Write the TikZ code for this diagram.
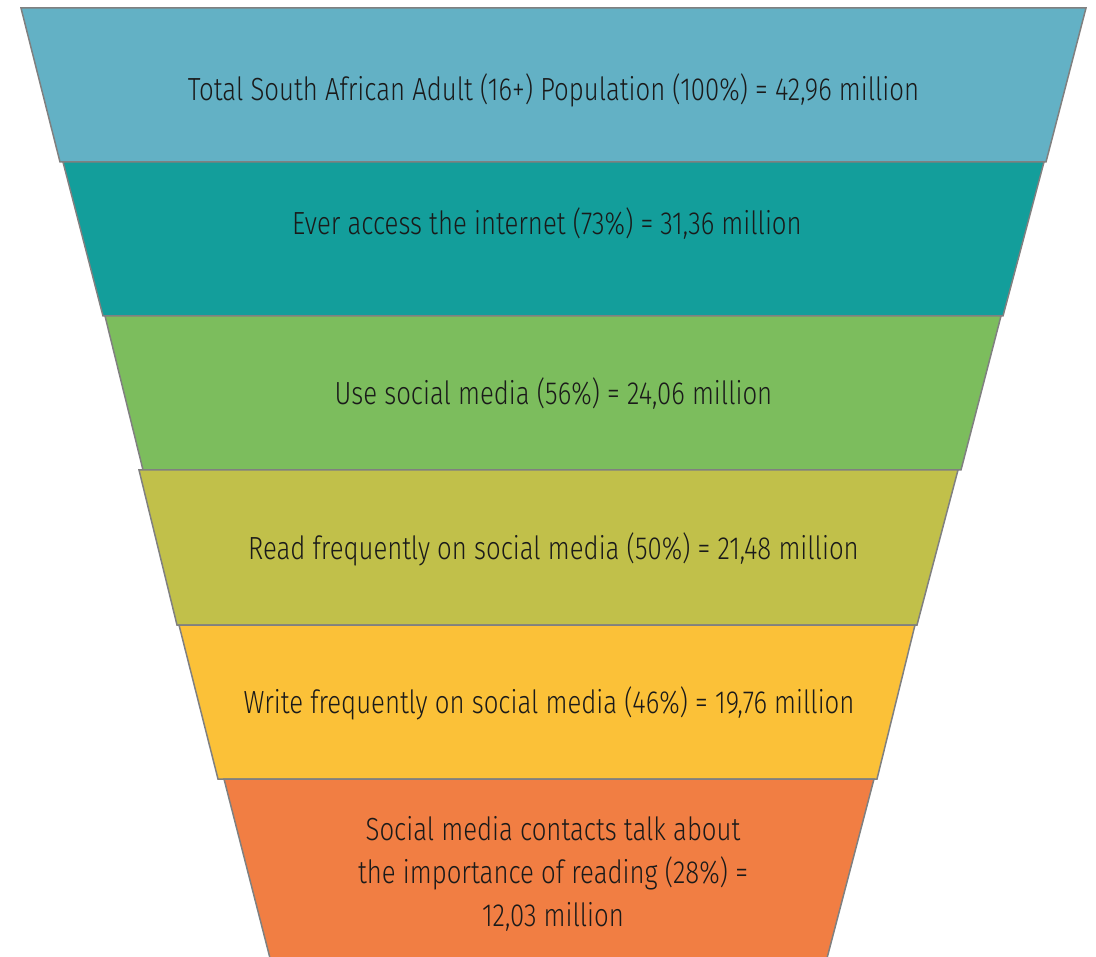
\documentclass[tikz,border=0pt]{standalone}
\usepackage{fontspec}
\setmainfont{Fira Sans}[UprightFont=* Light, FakeStretch=0.805]
\definecolor{c1}{RGB}{99,177,197}
\definecolor{c2}{RGB}{19,158,155}
\definecolor{c3}{RGB}{124,189,93}
\definecolor{c4}{RGB}{193,192,74}
\definecolor{c5}{RGB}{251,193,56}
\definecolor{c6}{RGB}{241,126,67}
\definecolor{edge}{RGB}{128,128,128}
\definecolor{ink}{RGB}{26,26,26}
\tikzset{
  band/.style={draw=edge, line width=1.5pt, line join=miter},
  lbl/.style={text=ink, font=\fontsize{32}{43}\selectfont, align=center, inner sep=0pt}
}
\begin{document}
\begin{tikzpicture}[x=1pt,y=-1pt]
\useasboundingbox (0,0) rectangle (1096,957);
\clip (0,0) rectangle (1096,957);
\path[band, fill=c1] (21,8) -- (1086,8) -- (1046,162) -- (60,162) -- cycle;
\path[band, fill=c2] (63,162) -- (1044,162) -- (1003,316) -- (103,316) -- cycle;
\path[band, fill=c3] (105,316) -- (1001,316) -- (961,470) -- (143,470) -- cycle;
\path[band, fill=c4] (139,470) -- (958,470) -- (917,625) -- (177,625) -- cycle;
\path[band, fill=c5] (179,625) -- (915,625) -- (877,779) -- (218,779) -- cycle;
\path[band, fill=c6] (224,779) -- (874,779) -- (826,962) -- (271,962) -- cycle;
\node[lbl] (t1) at (553.5,90) {Total South African Adult (16+) Population (100\%) = 42,96 million};
\node[lbl] (t2) at (547,224) {Ever access the internet (73\%) = 31,36 million};
\node[lbl] (t3) at (553.5,394) {Use social media (56\%) = 24,06 million};
\node[lbl] (t4) at (553.5,549) {Read frequently on social media (50\%) = 21,48 million};
\node[lbl] (t5) at (549,703) {Write frequently on social media (46\%) = 19,76 million};
\node[lbl] (t6) at (553,874) {Social media contacts talk about\\the importance of reading (28\%) =\\12,03 million};
\end{tikzpicture}
\end{document}
